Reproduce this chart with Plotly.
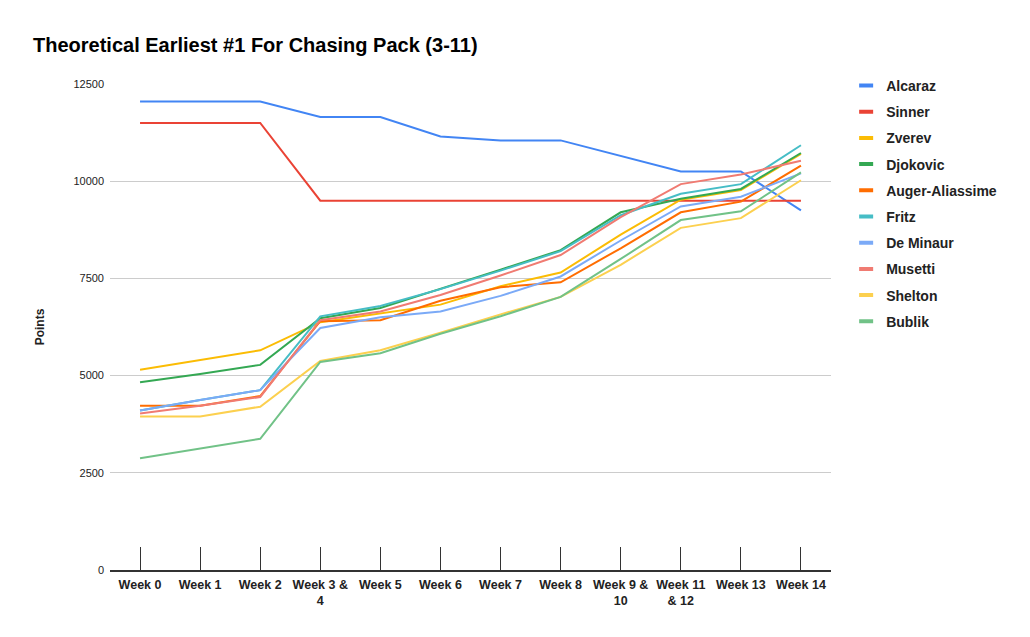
import plotly.graph_objects as go

weeks = ["Week 0", "Week 1", "Week 2", "Week 3 &<br>4", "Week 5", "Week 6", "Week 7",
         "Week 8", "Week 9 &<br>10", "Week 11<br>& 12", "Week 13", "Week 14"]

alcaraz = [12050, 12050, 12050, 11650, 11650, 11150, 11050, 11050, 10650, 10250, 10250, 9250]
sinner = [11500, 11500, 11500, 9500, 9500, 9500, 9500, 9500, 9500, 9500, 9500, 9500]
zverev = [5150, 5400, 5650, 6375, 6600, 6825, 7300, 7650, 8625, 9525, 9775, 10700]
djokovic = [4830, 5040, 5275, 6475, 6740, 7225, 7725, 8225, 9200, 9550, 9800, 10725]
auger = [4225, 4225, 4475, 6400, 6425, 6925, 7275, 7400, 8275, 9200, 9475, 10400]
fritz = [4100, 4375, 4625, 6525, 6790, 7225, 7700, 8200, 9125, 9675, 9925, 10925]
de_minaur = [4100, 4375, 4625, 6225, 6500, 6650, 7050, 7550, 8475, 9350, 9600, 10200]
musetti = [4025, 4225, 4450, 6425, 6650, 7075, 7575, 8100, 9075, 9925, 10175, 10525]
shelton = [3950, 3950, 4200, 5375, 5650, 6100, 6575, 7025, 7850, 8800, 9050, 10025]
bublik = [2875, 3125, 3375, 5350, 5575, 6075, 6525, 7025, 8000, 9000, 9225, 10225]

series = [
    ("Alcaraz", alcaraz, "#4285f4"),
    ("Sinner", sinner, "#ea4335"),
    ("Zverev", zverev, "#fbbc04"),
    ("Djokovic", djokovic, "#34a853"),
    ("Auger-Aliassime", auger, "#ff6d01"),
    ("Fritz", fritz, "#46bdc6"),
    ("De Minaur", de_minaur, "#7baaf7"),
    ("Musetti", musetti, "#f07b72"),
    ("Shelton", shelton, "#fcd04f"),
    ("Bublik", bublik, "#71c287"),
]

y_ticks = [0, 2500, 5000, 7500, 10000, 12500]

fig = go.Figure()
for name, vals, color in series:
    fig.add_trace(go.Scatter(x=weeks, y=vals, name=name, mode="lines",
                             line=dict(color=color, width=2), showlegend=False))
# legend entries: short thick line swatches like the reference
for name, vals, color in series:
    fig.add_trace(go.Scatter(x=[None], y=[None], name="<b>" + name + "</b>", mode="markers",
                             legendgroup=name,
                             marker=dict(symbol="line-ew", size=10, color=color,
                                         line=dict(color=color, width=4))))

FW, FH = 1022, 629
fig.update_layout(
    width=FW, height=FH,
    margin=dict(l=102, r=199, t=76, b=67),
    paper_bgcolor="white", plot_bgcolor="white",
    font=dict(family="Liberation Sans, Arial, sans-serif", color="#222222"),
    title=dict(text="<b>Theoretical Earliest #1 For Chasing Pack (3-11)</b>",
               x=25 / FW, xanchor="left", y=1 - 37 / FH, yanchor="middle",
               font=dict(size=20, color="#000000")),
    legend=dict(x=1.021, xanchor="left", y=1.029, yanchor="top",
                font=dict(size=14, color="#222222"), tracegroupgap=5,
                itemwidth=30, traceorder="grouped"),
    showlegend=True,
)
fig.update_xaxes(type="category", range=[-0.5, 11.5], showgrid=False,
                 showline=True, linecolor="#333333", linewidth=1.5,
                 ticks="inside", ticklen=23, tickcolor="#333333", tickwidth=1,
                 ticklabelstandoff=2,
                 tickfont=dict(size=12.5, color="#222222",
                               family="Liberation Sans, Arial, sans-serif"),
                 tickprefix="<b>", ticksuffix="</b>", zeroline=False)
fig.update_yaxes(range=[0, 12500], tickvals=y_ticks, ticktext=[str(v) for v in y_ticks],
                 showgrid=True, gridcolor="#cccccc", gridwidth=1, zeroline=False,
                 showline=False, ticks="", ticklabelstandoff=5,
                 tickfont=dict(size=11, color="#222222"),
                 title=dict(text="<b>Points</b>", font=dict(size=12, color="#222222"), standoff=26))

fig.write_html("out.html")
